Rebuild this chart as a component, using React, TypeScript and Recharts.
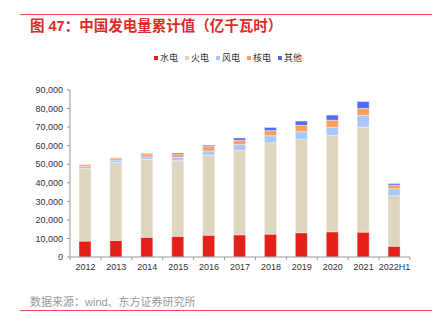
import React from 'react';
import { BarChart, Bar, XAxis, YAxis, Legend } from 'recharts';

const years = ['2012', '2013', '2014', '2015', '2016', '2017', '2018', '2019', '2020', '2021', '2022H1'];
const hydro = [8556, 8921, 10601, 11127, 11748, 11947, 12321, 13044, 13552, 13390, 5803];
const thermal = [39100, 42000, 42000, 40800, 43100, 45500, 49200, 50500, 51900, 56600, 27200];
const wind = [1100, 1300, 1400, 1800, 2300, 3100, 3800, 4000, 4500, 6400, 3800];
const nuclear = [1000, 1150, 1500, 1700, 2400, 2400, 2800, 3500, 3800, 3700, 2000];
const other = [100, 100, 300, 600, 700, 1200, 1700, 2200, 2700, 3700, 800];
const yTicks = [0, 10000, 20000, 30000, 40000, 50000, 60000, 70000, 80000, 90000];

const seriesNames = ['水电', '火电', '风电', '核电', '其他'];
const seriesKeys = ['hydro', 'thermal', 'wind', 'nuclear', 'other'];
const seriesColors = ['#E3211A', '#DDD5BE', '#A9C8F9', '#FF9F5B', '#4E6CF4'];

const data = years.map((y, i) => ({
  year: y,
  hydro: hydro[i],
  thermal: thermal[i],
  wind: wind[i],
  nuclear: nuclear[i],
  other: other[i],
}));

const FONT = '"Liberation Sans", Arial, "Noto Sans CJK SC", sans-serif';

const XTick = (props: any) => {
  const { x, y, payload, index, visibleTicksCount } = props;
  const half = payload && typeof payload.offset === 'number' ? payload.offset : 15.45;
  const last = index === (visibleTicksCount ?? years.length) - 1;
  return (
    <g>
      <line x1={x - half} x2={x - half} y1={y - 3} y2={y} stroke="#999" strokeWidth={1} />
      {last && <line x1={x + half} x2={x + half} y1={y - 3} y2={y} stroke="#999" strokeWidth={1} />}
      <text x={x} y={y} dy={10} textAnchor="middle" fontSize={9} fill="#333" fontFamily={FONT}>
        {payload.value}
      </text>
    </g>
  );
};

const renderLegend = (props: any) => {
  const payload = [...(props.payload || [])].sort(
    (a: any, b: any) => seriesNames.indexOf(a.value) - seriesNames.indexOf(b.value)
  );
  return (
    <div style={{ display: 'flex', paddingLeft: 154, fontFamily: FONT, fontSize: 9, color: '#333' }}>
      {payload.map((p: any) => (
        <div key={p.value} style={{ display: 'flex', alignItems: 'center', width: 31 }}>
          <span style={{ display: 'inline-block', width: 4, height: 4, background: p.color, marginRight: 2 }} />
          <span>{p.value}</span>
        </div>
      ))}
    </div>
  );
};

export default function App() {
  return (
    <div style={{ position: 'absolute', left: 0, top: 0, width: 440, height: 329, background: '#fff', fontFamily: FONT }}>
      <div style={{ position: 'absolute', left: 20, top: 14, width: 412, height: 1, background: '#E8534D' }} />
      <div style={{ position: 'absolute', left: 30, top: 17, fontSize: 14.5, fontWeight: 'bold', color: '#E02A25', whiteSpace: 'nowrap', lineHeight: '18px' }}>
        图 47：中国发电量累计值（亿千瓦时）
      </div>
      <div style={{ position: 'absolute', left: 0, top: 0 }}>
        <BarChart width={440} height={329} data={data} margin={{ top: 77, right: 30, left: 0, bottom: 52 }} barSize={12}>
          <Legend content={renderLegend} verticalAlign="top" wrapperStyle={{ top: 51, left: 0, width: 440 }} />
          <XAxis dataKey="year" tickLine={false} tickSize={3} tickMargin={0} axisLine={{ stroke: '#999' }} height={20} tick={<XTick />} interval={0} />
          <YAxis
            width={70}
            domain={[0, 90000]}
            ticks={yTicks}
            tickFormatter={(v: number) => v.toLocaleString('en-US')}
            tick={{ fontSize: 9, fill: '#333', fontFamily: FONT }}
            tickSize={3}
            tickMargin={4}
            tickLine={{ stroke: '#999' }}
            axisLine={{ stroke: '#999' }}
            interval={0}
          />
          {seriesKeys.map((k, i) => (
            <Bar key={k} dataKey={k} name={seriesNames[i]} stackId="a" fill={seriesColors[i]} stroke="#fff" strokeWidth={0.6} strokeOpacity={0.6} isAnimationActive={false} />
          ))}
        </BarChart>
      </div>
      <div style={{ position: 'absolute', left: 30, top: 294, fontSize: 11, color: '#999', whiteSpace: 'nowrap', lineHeight: '16px' }}>
        数据来源：wind、东方证券研究所
      </div>
      <div style={{ position: 'absolute', left: 20, top: 310, width: 412, height: 1, background: '#E8534D' }} />
    </div>
  );
}
